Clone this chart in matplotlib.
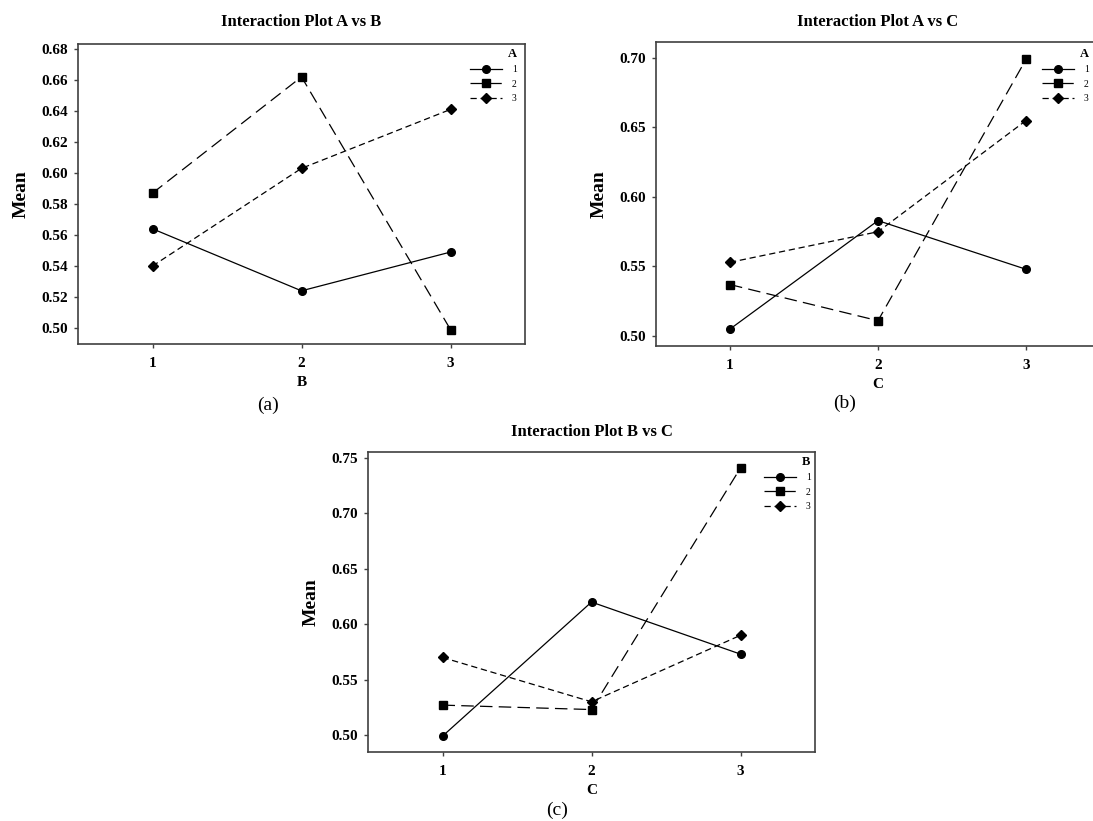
import matplotlib
matplotlib.use("Agg")
import matplotlib.pyplot as plt
from matplotlib.ticker import FormatStrFormatter

plt.rcParams['font.family'] = 'Liberation Serif'

levels = [1, 2, 3]

# Interaction A vs B (lines are levels of A)
ab_a1 = [0.564, 0.524, 0.549]
ab_a2 = [0.587, 0.662, 0.499]
ab_a3 = [0.540, 0.603, 0.641]
ab_yticks = [0.50, 0.52, 0.54, 0.56, 0.58, 0.60, 0.62, 0.64, 0.66, 0.68]

# Interaction A vs C
ac_a1 = [0.505, 0.583, 0.548]
ac_a2 = [0.537, 0.511, 0.699]
ac_a3 = [0.553, 0.575, 0.655]
ac_yticks = [0.50, 0.55, 0.60, 0.65, 0.70]

# Interaction B vs C (lines are levels of B)
bc_b1 = [0.499, 0.620, 0.573]
bc_b2 = [0.527, 0.523, 0.741]
bc_b3 = [0.570, 0.530, 0.590]
bc_yticks = [0.50, 0.55, 0.60, 0.65, 0.70, 0.75]

W, H = 1093, 821


def rect(left, top, right, bottom):
    return [left / W, 1 - bottom / H, (right - left) / W, (bottom - top) / H]


def interaction(fig, box, series, title, xlabel, ylim, yticks, legtitle, legpos, tpad):
    ax = fig.add_axes(box)
    styles = [('-', 'o', 5.5), ((0, (10, 5)), 's', 6), ((0, (5, 3)), 'D', 5)]
    for ys, (ls, mk, ms), lab in zip(series, styles, ['1', '2', '3']):
        ax.plot(levels, ys, color='black', lw=0.9, linestyle=ls, marker=mk,
                markersize=ms, label=lab)
    ax.set_xlim(0.5, 3.5)
    ax.set_ylim(*ylim)
    ax.set_xticks(levels)
    ax.set_yticks(yticks)
    ax.yaxis.set_major_formatter(FormatStrFormatter('%.2f'))
    for lbl in ax.get_xticklabels() + ax.get_yticklabels():
        lbl.set_fontweight('bold')
        lbl.set_fontsize(11)
    ax.tick_params(direction='out', length=3, width=1, color='#404040', pad=4)
    ax.tick_params(axis='x', pad=6)
    for sp in ax.spines.values():
        sp.set_color('#404040')
        sp.set_linewidth(1.2)
    ax.set_title(title, fontsize=12, fontweight='bold', pad=tpad)
    ax.set_xlabel(xlabel, fontsize=11, fontweight='bold', labelpad=5)
    ax.set_ylabel('Mean', fontsize=14, fontweight='bold', labelpad=9)
    leg = ax.legend(loc='upper left', bbox_to_anchor=(legpos[0] / W, 1 - legpos[1] / H),
                    bbox_transform=fig.transFigure, frameon=False, title=legtitle,
                    fontsize=7, handlelength=3.3, handletextpad=1.0, labelspacing=0.55,
                    borderpad=0, borderaxespad=0, alignment='right', numpoints=1)
    leg.get_title().set_fontweight('bold')
    leg.get_title().set_fontsize(9)
    return ax


def main():
    fig = plt.figure(figsize=(W / 100, H / 100), dpi=100)

    interaction(fig, rect(78, 44, 525, 344), [ab_a1, ab_a2, ab_a3],
                'Interaction Plot A vs B', 'B', (0.4897, 0.6832), ab_yticks,
                'A', (470, 48), 13)
    interaction(fig, rect(656, 42, 1100, 346), [ac_a1, ac_a2, ac_a3],
                'Interaction Plot A vs C', 'C', (0.4928, 0.7115), ac_yticks,
                'A', (1042, 48), 11.5)
    interaction(fig, rect(368, 452, 815, 752), [bc_b1, bc_b2, bc_b3],
                'Interaction Plot B vs C', 'C', (0.4847, 0.7554), bc_yticks,
                'B', (764, 456), 11.5)

    fig.text(268 / W, 1 - 405 / H, '(a)', fontsize=14, ha='center', va='center')
    fig.text(845 / W, 1 - 403 / H, '(b)', fontsize=14, ha='center', va='center')
    fig.text(557 / W, 1 - 810 / H, '(c)', fontsize=14, ha='center', va='center')

    fig.savefig('out.png', dpi=100, facecolor='white')


if __name__ == "__main__":
    main()
